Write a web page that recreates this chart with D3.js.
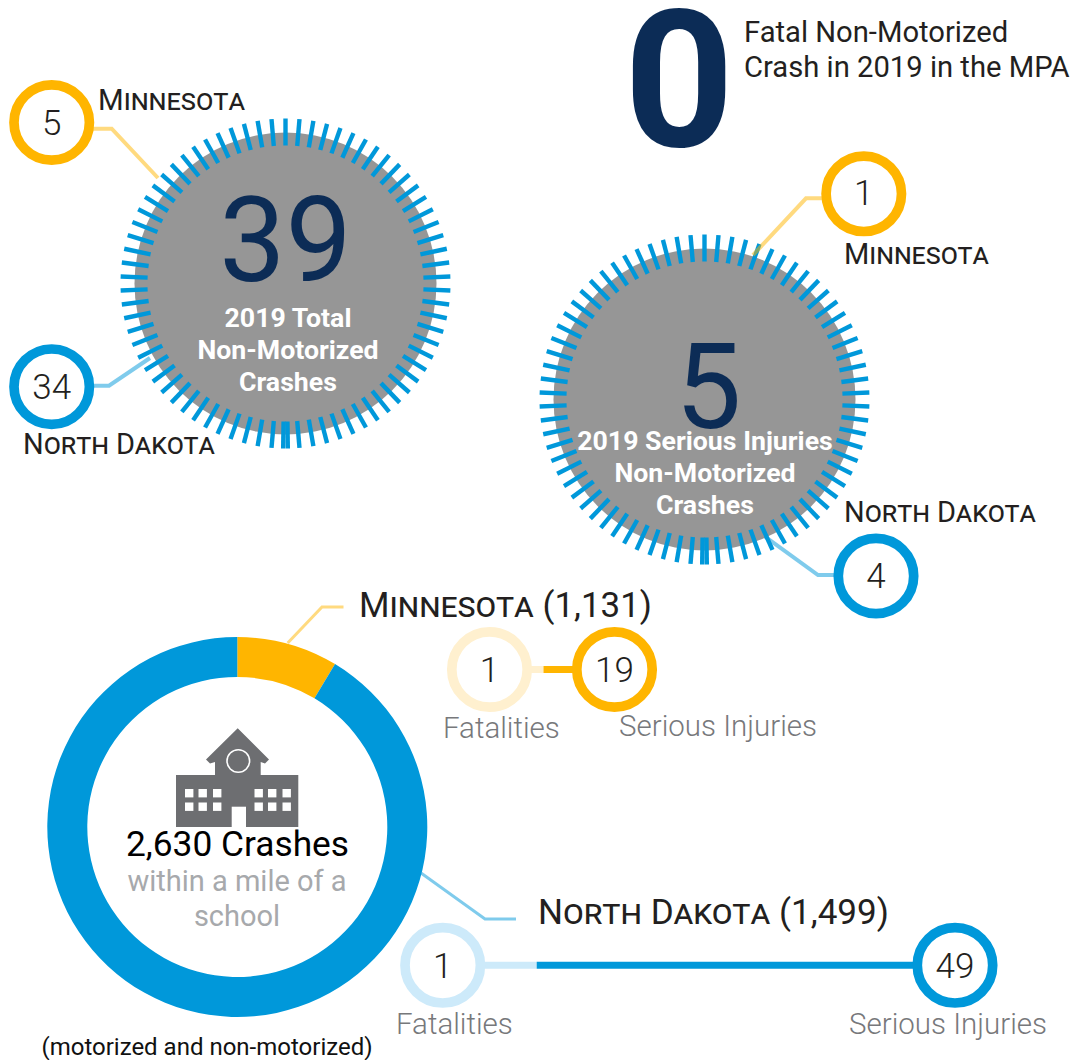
<!DOCTYPE html>
<html><head><meta charset="utf-8">
<script src="https://cdn.jsdelivr.net/npm/d3@7"></script>
<style>html,body{margin:0;padding:0;background:#fff}svg{display:block}text{font-family:Roboto,sans-serif}</style>
</head><body><svg id="c" width="1074" height="1060"></svg>
<script>
// ---- data
const states = ["Minnesota", "North Dakota"];
const totalCrashes = [5, 34];
const seriousCrashes = [1, 4];
const schoolCrashes = [1131, 1499];
const schoolFatalities = [1, 1];
const schoolInjuries = [19, 49];
const donutShares = [8.6, 91.4];
const totalAll = 39, seriousAll = 5, fatalAll = 0, schoolAll = 2630;
const ringTickCount = 74;

const AMBER="#ffb500", BLUE="#0098da", NAVY="#0c2c56", GRAY="#969696";
const svg = d3.select("#c");
const fmt = d3.format(",");
const stateColor = d3.scaleOrdinal().domain(states).range([AMBER, BLUE]);
const lightColor = d3.scaleOrdinal().domain(states).range(["#fff0cf", "#cdeafa"]);
const path = d3.line();

function txt(s,x,y,size,opt={}){
  return svg.append("text").attr("x",x).attr("y",y).attr("font-size",size)
    .attr("font-weight",opt.w||400).attr("fill",opt.c||"#231f20")
    .attr("text-anchor",opt.a||"start")
    .style("font-variant",opt.sc?"small-caps":null)
    .attr("textLength",opt.len||null).attr("lengthAdjust",opt.len?"spacingAndGlyphs":null)
    .text(s);
}
const ringAngle = d3.scaleLinear().domain([0, ringTickCount]).range([0, 2*Math.PI]);
function ring(cx,cy){
  const g = svg.append("g").attr("transform",`translate(${cx},${cy})`);
  g.append("circle").attr("r",151).attr("fill",GRAY);
  const angles = d3.range(1, ringTickCount).map(d=>ringAngle(d)).concat([-0.014, 0.014]);
  g.selectAll("line").data(angles).join("line")
    .attr("x1",a=> 138*Math.sin(a)).attr("y1",a=> 138*Math.cos(a))
    .attr("x2",a=> 165*Math.sin(a)).attr("y2",a=> 165*Math.cos(a))
    .attr("stroke",BLUE).attr("stroke-width",4.4);
}
function leader(pts,state,w){
  svg.append("path").attr("d",path(pts)).attr("fill","none")
    .attr("stroke",stateColor(state)).attr("stroke-opacity",.5).attr("stroke-width",w);
}
function bubble(cx,cy,value,color,base,w=400,size=35){
  svg.append("circle").attr("cx",cx).attr("cy",cy).attr("r",37.7).attr("fill","#fff")
    .attr("stroke",color).attr("stroke-width",9.7);
  txt(value,cx,base,size,{a:"middle",w});
}

// ---- headline
txt(fatalAll,679,146,192,{a:"middle",w:700,c:NAVY});
txt("Fatal Non-Motorized",744,41.5,29.2);
txt("Crash in 2019 in the MPA",744,77,29.2);

// ---- total crashes ring
ring(285.5,283.5);
leader([[90,128.7],[111.7,128.7],[158,178]],states[0],4);
leader([[90,385.7],[109,385.7],[150,358]],states[1],4);
bubble(51.7,122.5,totalCrashes[0],AMBER,135,300);
bubble(51.7,386.7,totalCrashes[1],BLUE,398.5,300);
txt(totalAll,285.5,281,118,{a:"middle",c:NAVY});
["2019 Total","Non-Motorized","Crashes"].forEach((s,i)=>txt(s,288,327+32*i,26.7,{a:"middle",w:700,c:"#fff"}));
txt(states[0],98,110,29.5,{sc:1,w:400,len:147,c:"#231f20"});
txt(states[1],23,454,29.5,{sc:1,w:400,len:192});

// ---- serious injuries ring
ring(704.5,399.5);
leader([[825,198.3],[806,198.3],[753,255]],states[0],4);
leader([[838,575],[818,575],[765,536.7]],states[1],4);
bubble(863.8,193.8,seriousCrashes[0],AMBER,205,300);
bubble(876,576,seriousCrashes[1],BLUE,588,300);
txt(seriousAll,708.5,428,118,{a:"middle",c:NAVY});
["2019 Serious Injuries","Non-Motorized","Crashes"].forEach((s,i)=>txt(s,705,450+32*i,26.7,{a:"middle",w:700,c:"#fff"}));
txt(states[0],844,264,29.5,{sc:1,w:400,len:145});
txt(states[1],844,522,29.5,{sc:1,w:400,len:192});

// ---- school donut
const donut = svg.append("g").attr("transform","translate(237.3,827)");
const arc = d3.arc().innerRadius(150).outerRadius(190);
donut.selectAll("path").data(d3.pie().sort(null)(donutShares)).join("path")
  .attr("d",arc).attr("fill",(d,i)=>stateColor(states[i]));
leader([[287.7,643],[322,607],[343.5,607]],states[0],3);
leader([[421,873],[485,919],[516,919]],states[1],3);

// school icon
const ICON="#6d6e71";
const icon = svg.append("g");
icon.append("path").attr("fill",ICON).attr("d",path([[176,775],[215,775],[215,762],[210,763.5],[206,759.5],[237.7,728.3],[269,759.5],[265,763.5],[260.7,762],[260.7,775],[298.3,775],[298.3,827],[176,827]])+"Z");
icon.append("rect").attr("x",231.7).attr("y",806.7).attr("width",14.3).attr("height",20.3).attr("fill","#fff");
icon.append("circle").attr("cx",238.3).attr("cy",761).attr("r",11.3).attr("fill","none").attr("stroke","#fff").attr("stroke-width",1.6);
[185,198.5,213,254.5,268,282.5].forEach(x=>[789,802.5].forEach(y=>
  icon.append("rect").attr("x",x).attr("y",y).attr("width",8.4).attr("height",8.4).attr("fill","#fff")));

txt(fmt(schoolAll)+" Crashes",237.5,856,35.3,{a:"middle",c:"#000"});
txt("within a mile of a",237,891,29,{a:"middle",c:"#a7a9ac"});
txt("school",237,926,29,{a:"middle",c:"#a7a9ac"});
txt("(motorized and non-motorized)",207,1055,24,{a:"middle",c:"#111"});

txt(`${states[0]} (${fmt(schoolCrashes[0])})`,359,617,35,{sc:1,w:400,len:293});
txt(`${states[1]} (${fmt(schoolCrashes[1])})`,538,924,35,{sc:1,w:400,len:351});

// ---- dumbbells
function dumbbell(i,x0,x1,split,y,base){
  const s=states[i];
  svg.append("line").attr("x1",x0+40).attr("x2",split).attr("y1",y).attr("y2",y).attr("stroke",lightColor(s)).attr("stroke-width",7);
  svg.append("line").attr("x1",split).attr("x2",x1-40).attr("y1",y).attr("y2",y).attr("stroke",stateColor(s)).attr("stroke-width",7);
  bubble(x0,y,schoolFatalities[i],lightColor(s),base,300);
  bubble(x1,y,schoolInjuries[i],stateColor(s),base,300);
}
dumbbell(0,489.5,614.5,543.5,669.5,682);
dumbbell(1,442.7,955,536.7,965.3,978);
const LBL="#77787b";
txt("Fatalities",443,738,29.5,{c:LBL,w:300});
txt("Serious Injuries",619,736,29.5,{c:LBL,w:300});
txt("Fatalities",396,1034,29.5,{c:LBL,w:300});
txt("Serious Injuries",849,1034,29.5,{c:LBL,w:300});
</script></body></html>
